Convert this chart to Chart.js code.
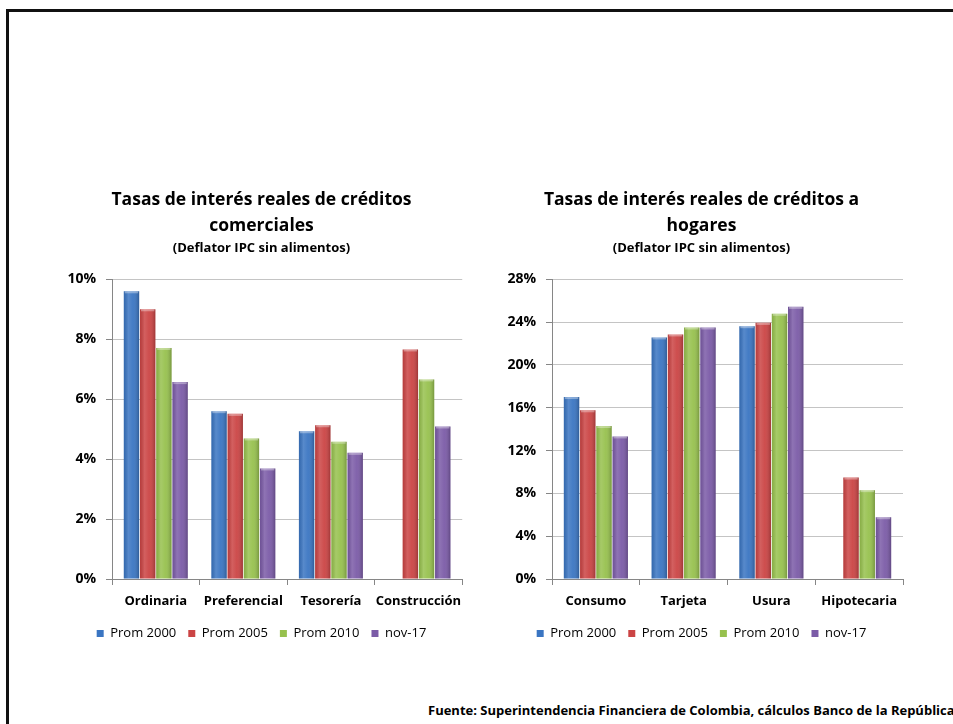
<!DOCTYPE html>
<html>
<head>
<meta charset="utf-8">
<script src="https://cdn.jsdelivr.net/npm/chart.js@4.4.1/dist/chart.umd.min.js"></script>
<style>
  html, body { margin: 0; padding: 0; background: #fff; overflow: hidden; }
  body { width: 953px; height: 724px; position: relative; font-family: "Open Sans", sans-serif; }
  #marco { position: absolute; left: 6px; top: 9px; width: 1000px; height: 800px;
           border-top: 3px solid #111; border-left: 3px solid #111; }
  #g1 { position: absolute; left: 60px; top: 180px; }
  #g2 { position: absolute; left: 500px; top: 180px; }
  #fuente { position: absolute; left: 428px; top: 701px; white-space: nowrap;
            font-weight: bold; font-size: 13px; color: #000; }
</style>
</head>
<body>
<div id="marco"></div>
<canvas id="g1" width="410" height="470"></canvas>
<canvas id="g2" width="410" height="470"></canvas>
<div id="fuente">Fuente: Superintendencia Financiera de Colombia, cálculos Banco de la República</div>

<script>
// series y categorias
const series = ["Prom 2000", "Prom 2005", "Prom 2010", "nov-17"];
const colores = ["#3A75C2", "#CB4444", "#97C14E", "#7B5BA7"];

const categoriasComerciales = ["Ordinaria", "Preferencial", "Tesorería", "Construcción"];
const prom2000Com = [9.60, 5.60, 4.93, null];
const prom2005Com = [9.00, 5.51, 5.13, 7.66];
const prom2010Com = [7.71, 4.69, 4.58, 6.66];
const nov17Com    = [6.57, 3.69, 4.21, 5.09];

const categoriasHogares = ["Consumo", "Tarjeta", "Usura", "Hipotecaria"];
const prom2000Hog = [17.00, 22.57, 23.62, null];
const prom2005Hog = [15.76, 22.85, 23.93, 9.48];
const prom2010Hog = [14.29, 23.50, 24.78, 8.30];
const nov17Hog    = [13.32, 23.50, 25.43, 5.77];

const maxCom = 10, pasoCom = 2;
const maxHog = 28, pasoHog = 4;

Chart.defaults.font.family = "'Open Sans', sans-serif";
Chart.defaults.color = "#000";

// sombreado tipo Excel sobre cada barra
const sombraBarras = {
  id: "sombraBarras",
  afterDatasetsDraw(chart) {
    const ctx = chart.ctx;
    chart.data.datasets.forEach((ds, i) => {
      chart.getDatasetMeta(i).data.forEach((bar, j) => {
        if (ds.data[j] == null || bar.skip) return;
        const alto = bar.base - bar.y;
        if (!(alto > 1)) return;
        const izq = bar.x - bar.width / 2;
        const g = ctx.createLinearGradient(izq, 0, izq + bar.width, 0);
        g.addColorStop(0, "rgba(0,0,0,0.10)");
        g.addColorStop(0.3, "rgba(255,255,255,0.15)");
        g.addColorStop(0.6, "rgba(255,255,255,0.05)");
        g.addColorStop(1, "rgba(0,0,0,0.22)");
        ctx.save();
        ctx.fillStyle = g;
        ctx.fillRect(izq, bar.y, bar.width, alto);
        ctx.fillStyle = "rgba(255,255,255,0.35)";
        ctx.fillRect(izq + 1, bar.y, bar.width - 2, 2);
        ctx.restore();
      });
    });
  }
};

function crearGrafico(id, titulo, categorias, valores, maxY, pasoY) {
  new Chart(document.getElementById(id), {
    type: "bar",
    data: {
      labels: categorias,
      datasets: valores.map((v, i) => ({
        label: series[i],
        data: v,
        backgroundColor: colores[i],
        borderWidth: 0,
        barPercentage: 0.95,
        categoryPercentage: 0.74
      }))
    },
    options: {
      responsive: false,
      animation: false,
      layout: { padding: { left: 0, right: 7, bottom: 0 } },
      plugins: {
        title: {
          display: true,
          text: titulo,
          font: { size: 17.5, weight: "bold", lineHeight: 1.486 },
          padding: { top: 7, bottom: 0 }
        },
        subtitle: {
          display: true,
          text: "(Deflator IPC sin alimentos)",
          font: { size: 13, weight: "bold", lineHeight: 1.1 },
          padding: { top: 2, bottom: 24 }
        },
        legend: {
          position: "bottom",
          labels: { boxWidth: 7, boxHeight: 7, padding: 12, font: { size: 13 } }
        },
        tooltip: { enabled: false }
      },
      scales: {
        x: {
          afterFit: s => { s.height = 36; },
          grid: { offset: true, drawOnChartArea: false, tickLength: 6, color: "#868686" },
          border: { color: "#868686" },
          ticks: { maxRotation: 0, autoSkip: false, padding: 8, font: { size: 13, weight: "bold" } }
        },
        y: {
          min: 0,
          max: maxY,
          afterFit: s => { s.width = 52; },
          ticks: {
            stepSize: pasoY,
            padding: 10,
            font: { size: 14, weight: "bold" },
            callback: v => v + "%"
          },
          grid: {
            color: "#c4c4c4",
            borderDash: [4, 3],
            tickLength: 6,
            tickColor: "#868686",
            tickBorderDash: []
          },
          border: { color: "#868686" }
        }
      }
    },
    plugins: [sombraBarras]
  });
}

crearGrafico("g1", ["Tasas de interés reales de créditos", "comerciales"],
  categoriasComerciales, [prom2000Com, prom2005Com, prom2010Com, nov17Com], maxCom, pasoCom);
crearGrafico("g2", ["Tasas de interés reales de créditos a", "hogares"],
  categoriasHogares, [prom2000Hog, prom2005Hog, prom2010Hog, nov17Hog], maxHog, pasoHog);
</script>
</body>
</html>
